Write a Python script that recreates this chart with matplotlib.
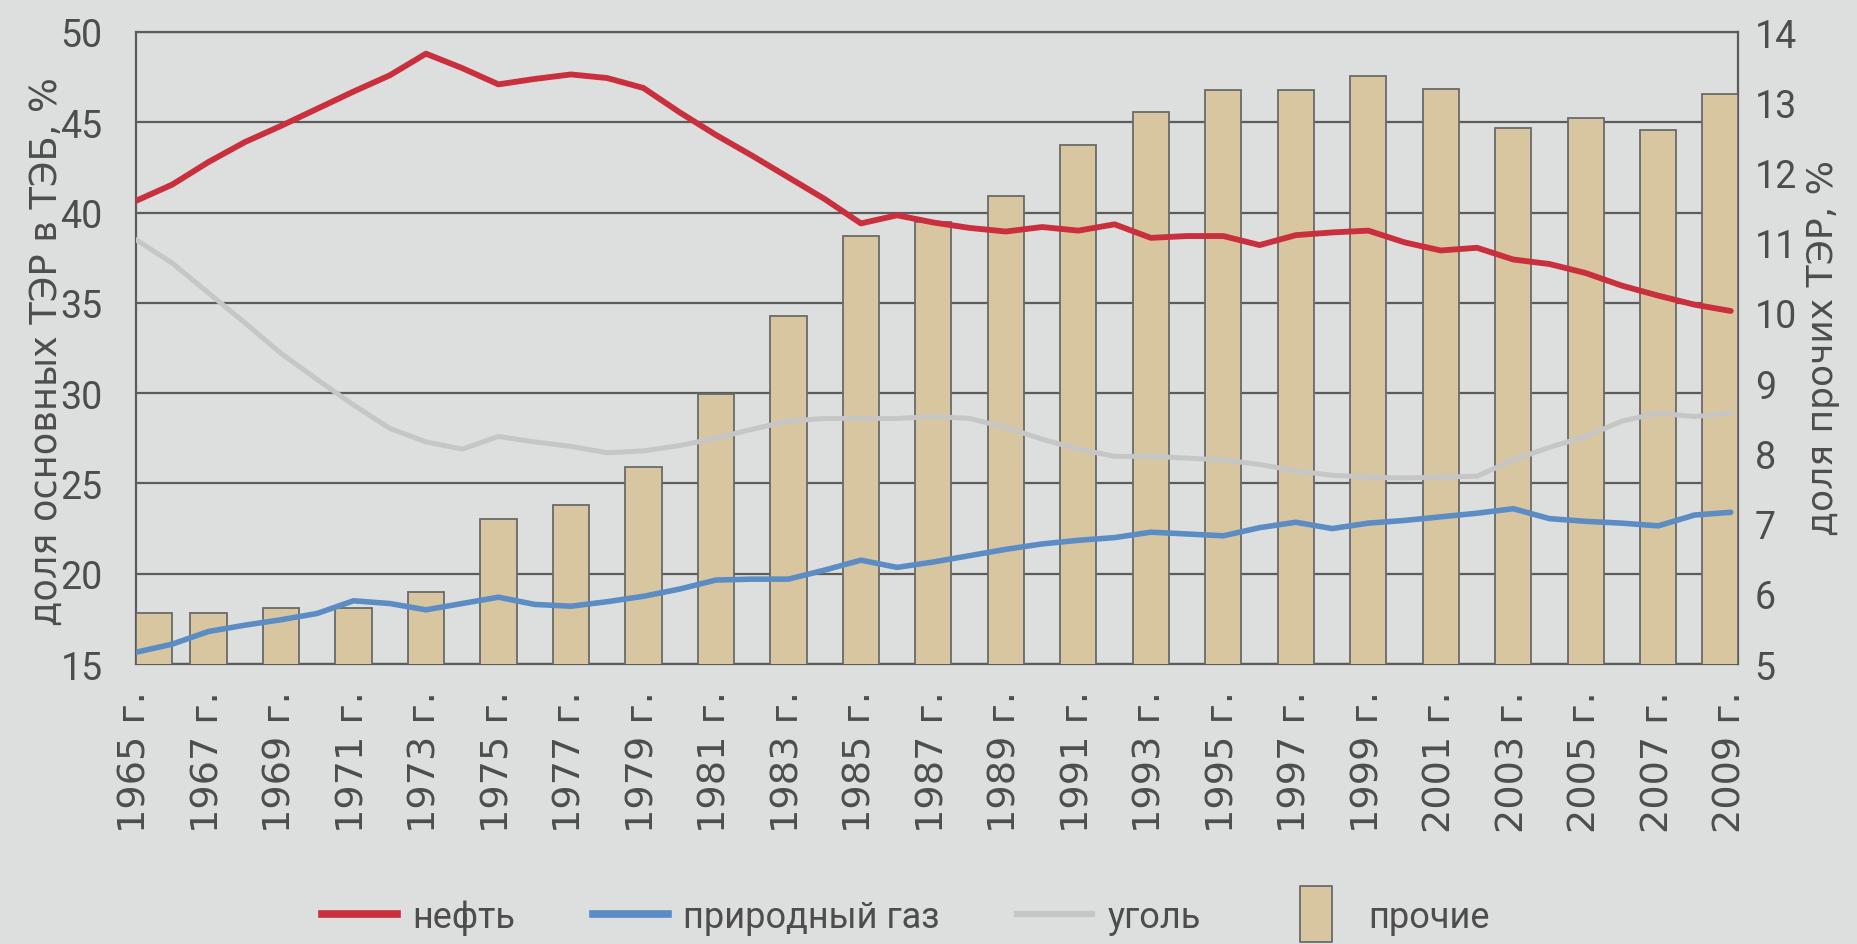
import numpy as np
import matplotlib
matplotlib.use("Agg")
import matplotlib.pyplot as plt
from matplotlib.lines import Line2D
from matplotlib.path import Path

# ---------------- data ----------------
years = np.arange(1965, 2010)

oil = [40.65, 41.55, 42.8, 43.9, 44.8, 45.75, 46.7, 47.6, 48.8, 48.0,
       47.1, 47.4, 47.65, 47.45, 46.9, 45.55, 44.3, 43.15, 41.95, 40.75,
       39.4, 39.85, 39.45, 39.15, 38.95, 39.2, 39.0, 39.35, 38.6, 38.7,
       38.7, 38.2, 38.75, 38.9, 39.0, 38.35, 37.9, 38.05, 37.4, 37.15,
       36.65, 35.95, 35.4, 34.9, 34.55]

gas = [15.65, 16.1, 16.8, 17.15, 17.45, 17.8, 18.5, 18.35, 18.0, 18.35,
       18.7, 18.3, 18.2, 18.45, 18.75, 19.15, 19.65, 19.7, 19.7, 20.2,
       20.75, 20.35, 20.65, 21.0, 21.35, 21.65, 21.85, 22.0, 22.3, 22.2,
       22.1, 22.55, 22.85, 22.5, 22.8, 22.95, 23.15, 23.35, 23.6, 23.05,
       22.9, 22.8, 22.65, 23.25, 23.4]

coal = [38.5, 37.2, 35.55, 33.9, 32.2, 30.75, 29.35, 28.05, 27.3, 26.9,
        27.6, 27.3, 27.05, 26.7, 26.8, 27.1, 27.5, 28.0, 28.45, 28.6,
        28.6, 28.6, 28.7, 28.6, 28.1, 27.45, 26.9, 26.5, 26.5, 26.4,
        26.3, 26.05, 25.7, 25.45, 25.35, 25.3, 25.35, 25.4, 26.3, 27.0,
        27.6, 28.45, 28.9, 28.7, 28.9]

bar_years = np.arange(1965, 2010, 2)
other = [5.72, 5.72, 5.80, 5.80, 6.03, 7.06, 7.26, 7.81, 8.85, 9.96,
         11.09, 11.3, 11.66, 12.39, 12.86, 13.18, 13.18, 13.37, 13.19, 12.63,
         12.78, 12.61, 13.11]

xtick_labels = [f"{y} г." for y in bar_years]
left_ticks = [15, 20, 25, 30, 35, 40, 45, 50]
right_ticks = [5, 6, 7, 8, 9, 10, 11, 12, 13, 14]
series_labels = ["нефть", "природный газ", "уголь", "прочие"]
left_title = "доля основных ТЭР в ТЭБ, %"
right_title = "доля прочих ТЭР, %"

# ---------------- style ----------------
BG = "#dddede"
GRID = "#5c5c5c"
TXT = "#4d4d4d"
RED = "#c92f3d"
BLUE = "#5b8cc4"
GREY = "#c6c6c6"
BARC = "#d8c6a1"
BARE = "#6a6a6a"
NARROW = ["Roboto", "DejaVu Sans"]
REG = ["DejaVu Sans"]

W, H = 1858, 945
fig = plt.figure(figsize=(W / 100, H / 100), dpi=100, facecolor=BG)

L, R, T, B = 136, 1738, 33, 665
ax = fig.add_axes([L / W, 1 - B / H, (R - L) / W, (B - T) / H])
ax.set_facecolor(BG)
XLIM = (1965, 2009.2)
ax.set_xlim(*XLIM)
ax.set_ylim(15, 50)
ax.set_yticks(left_ticks)
ax.set_yticklabels([str(t) for t in left_ticks], family=NARROW, fontsize=27, color=TXT)
ax.set_xticks(bar_years)
ax.set_xticklabels(xtick_labels, rotation=90, family=REG, fontsize=27.5, color=TXT)
ax.tick_params(axis="y", length=0, pad=24)
ax.tick_params(axis="x", length=0, pad=19)
ax.yaxis.grid(True, color=GRID, linewidth=1.6)
ax.xaxis.grid(False)
ax.set_axisbelow(True)
for s in ax.spines.values():
    s.set_color(GRID)
    s.set_linewidth(1.6)

# bars on right scale
axb = ax.twinx()
axb.set_ylim(5, 14)
axb.set_xlim(*XLIM)
bw = 1.0
bar_x = np.clip(bar_years, XLIM[0] + bw / 2, XLIM[1] - bw / 2)
axb.bar(bar_x, other, width=bw, color=BARC, edgecolor=BARE, linewidth=1.3)
axb.set_yticks(right_ticks)
axb.set_yticklabels([str(t) for t in right_ticks], family=NARROW, fontsize=27, color=TXT)
axb.tick_params(axis="y", length=0, pad=12)
for s in axb.spines.values():
    s.set_visible(False)

# lines on left scale, above bars
axl = ax.twinx()
axl.set_ylim(15, 50)
axl.set_xlim(*XLIM)
axl.set_yticks([])
for s in axl.spines.values():
    s.set_visible(False)
axl.plot(years, coal, color=GREY, lw=3.6, solid_joinstyle="round", solid_capstyle="round")
axl.plot(years, gas, color=BLUE, lw=4.0, solid_joinstyle="round", solid_capstyle="round")
axl.plot(years, oil, color=RED, lw=4.2, solid_joinstyle="round", solid_capstyle="round")

# axis titles
fig.text(46 / W, 1 - 352 / H, left_title, rotation=90, ha="center", va="center",
         family=REG, fontsize=26.5, color=TXT)
fig.text(1823 / W, 1 - 348 / H, right_title, rotation=90, ha="center", va="center",
         family=REG, fontsize=26, color=TXT)

# legend
rect = Path([(-0.29, -0.5), (0.29, -0.5), (0.29, 0.5), (-0.29, 0.5), (-0.29, -0.5)],
            [Path.MOVETO, Path.LINETO, Path.LINETO, Path.LINETO, Path.CLOSEPOLY])
handles = [
    Line2D([], [], color=RED, lw=5.5),
    Line2D([], [], color=BLUE, lw=5.5),
    Line2D([], [], color=GREY, lw=4.5),
    Line2D([], [], ls="none", marker=rect, markersize=40, markerfacecolor=BARC,
           markeredgecolor=BARE, markeredgewidth=1.3),
]
fig.legend(handles, series_labels, loc="center", bbox_to_anchor=(906 / W, 1 - 918 / H),
           ncol=4, frameon=False, handlelength=2.08, handletextpad=0.42, columnspacing=2.15,
           prop={"family": NARROW, "size": 26}, labelcolor=TXT)

fig.savefig("out.png", dpi=100, facecolor=BG)
